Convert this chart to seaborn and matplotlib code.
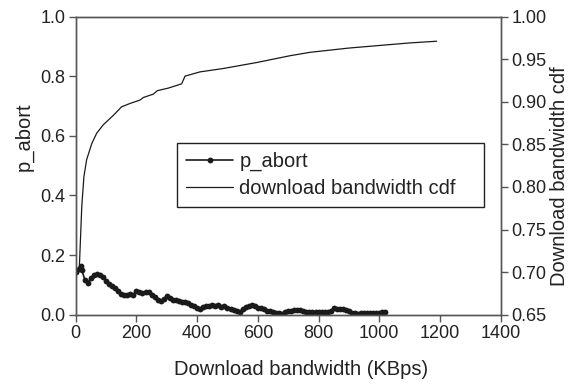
import numpy as np
import pandas as pd
import matplotlib
matplotlib.use("Agg")
import matplotlib.pyplot as plt
import seaborn as sns

# p_abort series (left axis)
abort_bw = [0, 10, 16, 20, 30, 40, 50, 60, 70, 80, 90, 100, 110, 120, 130, 140, 150, 160, 170, 180,
            190, 200, 210, 220, 230, 240, 250, 260, 270, 280, 290, 300, 310, 320, 330, 340, 350, 360,
            370, 380, 390, 400, 410, 420, 430, 440, 450, 460, 470, 480, 490, 500, 510, 520, 530, 540,
            550, 560, 570, 580, 590, 600, 610, 620, 630, 640, 650, 660, 670, 680, 690, 700, 710, 720,
            730, 740, 750, 760, 770, 780, 790, 800, 810, 820, 830, 840, 850, 860, 870, 880, 890, 900,
            910, 920, 930, 940, 950, 960, 970, 980, 990, 1000, 1010, 1020]
p_abort = [0.145, 0.155, 0.162, 0.150, 0.118, 0.108, 0.125, 0.133, 0.137, 0.133, 0.128, 0.115, 0.104,
           0.096, 0.089, 0.080, 0.071, 0.066, 0.068, 0.070, 0.066, 0.080, 0.078, 0.074, 0.076, 0.078,
           0.068, 0.060, 0.051, 0.047, 0.053, 0.062, 0.056, 0.050, 0.048, 0.046, 0.044, 0.042, 0.039,
           0.034, 0.028, 0.022, 0.019, 0.025, 0.029, 0.030, 0.032, 0.030, 0.033, 0.025, 0.030, 0.024,
           0.020, 0.017, 0.014, 0.011, 0.018, 0.026, 0.031, 0.033, 0.028, 0.024, 0.022, 0.018, 0.014,
           0.012, 0.009, 0.007, 0.005, 0.004, 0.008, 0.012, 0.013, 0.015, 0.016, 0.015, 0.013, 0.011,
           0.010, 0.009, 0.010, 0.010, 0.011, 0.011, 0.010, 0.012, 0.024, 0.021, 0.019, 0.019, 0.017,
           0.013, 0.006, 0.005, 0.004, 0.005, 0.005, 0.006, 0.006, 0.006, 0.007, 0.007, 0.009, 0.011]

# download bandwidth cdf (right axis)
cdf_bw = [5, 12, 20, 27, 36, 53, 69, 91, 124, 151, 179, 212, 223, 256, 269, 305, 349, 360, 409,
          486, 596, 706, 772, 900, 1000, 1100, 1189]
cdf_val = [0.700, 0.706, 0.777, 0.812, 0.832, 0.851, 0.863, 0.873, 0.884, 0.894, 0.898, 0.902, 0.905,
           0.909, 0.913, 0.916, 0.921, 0.930, 0.935, 0.939, 0.946, 0.954, 0.958, 0.963, 0.966,
           0.969, 0.971]

sns.set_style("ticks")
plt.rcParams['font.family'] = ['Liberation Sans', 'DejaVu Sans']

fig = plt.figure(figsize=(5.77, 3.85), dpi=100)
ax = fig.add_axes([0.1312, 0.1823, 0.7366, 0.7748])
ax2 = ax.twinx()

df_a = pd.DataFrame({"bw": abort_bw, "p": p_abort})
df_c = pd.DataFrame({"bw": cdf_bw, "c": cdf_val})

sns.lineplot(data=df_a, x="bw", y="p", ax=ax, color="#1a1a1a", linewidth=1.2,
             marker="o", markersize=4.2, markeredgewidth=0, label="p_abort", legend=False)
sns.lineplot(data=df_c, x="bw", y="c", ax=ax2, color="#1a1a1a", linewidth=0.9,
             label="download bandwidth cdf", legend=False)

ax.set_xlim(0, 1400)
ax.set_ylim(0, 1.0)
ax2.set_ylim(0.65, 1.0)
ax.set_xticks(np.arange(0, 1401, 200))
ax.set_yticks(np.arange(0, 1.01, 0.2))
ax.set_yticklabels([f"{v:.1f}" for v in np.arange(0, 1.01, 0.2)])
ax2.set_yticks(np.arange(0.65, 1.001, 0.05))
ax2.set_yticklabels([f"{v:.2f}" for v in np.arange(0.65, 1.001, 0.05)])

fs = 14.5
tfs = 13
tc = "#222222"
ax.set_xlabel("Download bandwidth (KBps)", fontsize=fs, color=tc)
ax.set_ylabel("p_abort", fontsize=fs, color=tc)
ax2.set_ylabel("Download bandwidth cdf", fontsize=fs, color=tc)
ax.xaxis.set_label_coords(0.531, -0.152)
ax.yaxis.set_label_coords(-0.098, 0.596)
ax2.yaxis.set_label_coords(1.117, 0.465)

for a in (ax, ax2):
    for s in a.spines.values():
        s.set_visible(True)
        s.set_color("#555555")
        s.set_linewidth(1.0)
    a.tick_params(axis="both", labelsize=tfs, colors="#555555", labelcolor=tc,
                  length=5, width=1.0, direction="out", pad=2.5)

h1, l1 = ax.get_legend_handles_labels()
h2, l2 = ax2.get_legend_handles_labels()
leg = ax2.legend(h1 + h2, l1 + l2, loc="upper left",
                 bbox_to_anchor=(0.238, 0.355, 0.723, 0.221), mode="expand",
                 frameon=True, fancybox=False, framealpha=1, edgecolor="#222222",
                 fontsize=fs, handlelength=2.35, handletextpad=0.3, borderpad=0.45,
                 labelspacing=0.4, borderaxespad=0)
leg.get_frame().set_linewidth(1.0)
for t in leg.get_texts():
    t.set_color(tc)

fig.savefig("out.png", dpi=100)
